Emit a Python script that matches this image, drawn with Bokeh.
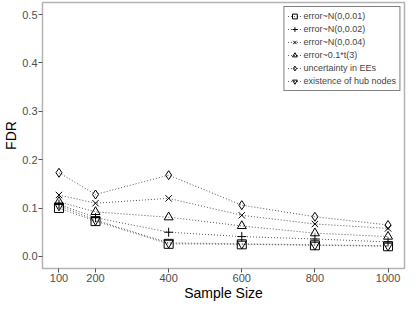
from bokeh.plotting import figure
from bokeh.embed import file_html
from bokeh.resources import INLINE
from bokeh.models import FixedTicker, PrintfTickFormatter, Range1d

sample_size = [100, 200, 400, 600, 800, 1000]
fdr_n001 = [0.100, 0.073, 0.026, 0.025, 0.023, 0.021]
fdr_n002 = [0.108, 0.080, 0.050, 0.041, 0.036, 0.030]
fdr_n004 = [0.127, 0.110, 0.120, 0.085, 0.067, 0.058]
fdr_t3 = [0.113, 0.092, 0.081, 0.063, 0.048, 0.041]
fdr_ees = [0.173, 0.128, 0.168, 0.106, 0.082, 0.065]
fdr_hub = [0.105, 0.075, 0.028, 0.026, 0.024, 0.022]

series = [
    ("error~N(0,0.01)", fdr_n001, "square"),
    ("error~N(0,0.02)", fdr_n002, "cross"),
    ("error~N(0,0.04)", fdr_n004, "x"),
    ("error~0.1*t(3)", fdr_t3, "triangle"),
    ("uncertainty in EEs", fdr_ees, "diamond"),
    ("existence of hub nodes", fdr_hub, "inverted_triangle"),
]
y_ticks = [0.0, 0.1, 0.2, 0.3, 0.4, 0.5]

FONT = "Liberation Sans"

p = figure(frame_width=362, frame_height=266, output_backend="svg", toolbar_location=None,
           x_range=Range1d(55, 1045), y_range=Range1d(-0.025, 0.525),
           min_border_left=0, min_border_right=3, min_border_top=2, min_border_bottom=0)

for label, ys, marker in series:
    p.line(sample_size, ys, line_color="#555555", line_width=1, line_dash="1 2",
           legend_label=label)
    p.scatter(sample_size, ys, marker=marker, size=9, line_color="black",
              fill_color=None, line_width=1, legend_label=label)

p.xgrid.visible = False
p.ygrid.visible = False
p.outline_line_color = "#b3b3b3"
p.outline_line_width = 1.5

for ax in (p.xaxis[0], p.yaxis[0]):
    ax.axis_line_color = None
    ax.major_tick_line_color = "#555555"
    ax.major_tick_out = 4
    ax.major_tick_in = 0
    ax.minor_tick_line_color = None
    ax.major_label_text_font = FONT
    ax.major_label_text_font_size = "11px"
    ax.major_label_text_color = "#4d4d4d"
    ax.major_label_standoff = 1
    ax.axis_label_text_font = FONT
    ax.axis_label_text_font_size = "14px"
    ax.axis_label_text_font_style = "normal"
    ax.axis_label_text_color = "black"
    ax.axis_label_standoff = 0

p.xaxis.axis_label = "Sample Size"
p.yaxis.axis_label = "FDR"
p.xaxis.ticker = FixedTicker(ticks=sample_size)
p.yaxis.ticker = FixedTicker(ticks=y_ticks)
p.yaxis.formatter = PrintfTickFormatter(format="%.1f")

lg = p.legend[0]
lg.location = "top_right"
lg.margin = 4
lg.padding = 3
lg.spacing = 1
lg.glyph_height = 12
lg.glyph_width = 14
lg.label_height = 12
lg.label_standoff = 2
lg.label_text_font = FONT
lg.label_text_font_size = "9px"
lg.border_line_color = "black"
lg.border_line_width = 1
lg.background_fill_color = "white"
lg.background_fill_alpha = 1

open("out.html", "w").write(file_html(p, INLINE))
